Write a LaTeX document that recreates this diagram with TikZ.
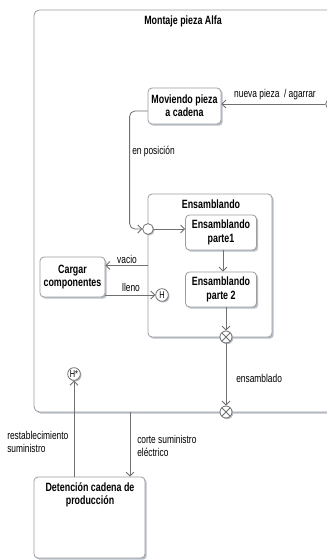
\documentclass[tikz,border=0pt]{standalone}
\usepackage{fontspec}
\setmainfont{Liberation Sans}[FakeStretch=0.74]
\usepackage{xcolor}
\usepackage{tikz}
\usetikzlibrary{arrows.meta,positioning,shadows}
\definecolor{linegray}{HTML}{707070}
\definecolor{boxgray}{HTML}{9C9C9C}
\definecolor{shadowblue}{HTML}{B8BECB}

\begin{document}
\begin{tikzpicture}[x=0.75pt, y=-0.75pt,
  statebox/.style={draw=boxgray, fill=white, rounded corners=3pt, align=center,
    inner sep=1pt, line width=0.6pt, font=\fontsize{9}{10}\selectfont\bfseries,
    drop shadow={shadow xshift=1.3pt, shadow yshift=-1.3pt, fill=shadowblue, opacity=1}},
  title/.style={font=\fontsize{9}{10}\selectfont\bfseries, inner sep=0pt, align=center},
  trans/.style={draw=linegray, line width=0.6pt, -{Straight Barb[length=3pt,width=6pt]}},
  lbl/.style={font=\fontsize{8.5}{9.8}\selectfont, inner sep=0pt, align=left},
  pseudo/.style={circle, draw=linegray, fill=white, inner sep=0pt, line width=0.6pt,
    minimum size=8pt, drop shadow={shadow xshift=0.9pt, shadow yshift=-0.9pt, fill=shadowblue, opacity=1}},
  exitpt/.style={pseudo, minimum size=9pt,
    path picture={\draw[linegray, line width=0.6pt]
      (path picture bounding box.south west) -- (path picture bounding box.north east)
      (path picture bounding box.north west) -- (path picture bounding box.south east);}},
  histpt/.style={pseudo, minimum size=9.5pt, font=\fontsize{7.5}{8}\selectfont}]
  \useasboundingbox (0,0) rectangle (327,560);
  \clip (0,0) rectangle (327,560);

  % Outer state
  \node[statebox, rounded corners=4pt, minimum width=233.25pt, minimum height=301.5pt]
    (montaje) at (189.5,211) {};
  \node[title] (montajetxt) at (183,21) {Montaje pieza Alfa};

  % Composite state
  \node[statebox, minimum width=93pt, minimum height=107.25pt] (ens) at (210,265.5) {};
  \node[title] (enstxt) at (211,204) {Ensamblando};

  % Simple states
  \node[statebox, minimum width=54.75pt, minimum height=27pt] (mover) at (184.5,106)
    {Moviendo pieza\\a cadena};
  \node[statebox, minimum width=53.25pt, minimum height=26.25pt] (p1) at (221,232.5)
    {Ensamblando\\parte1};
  \node[statebox, minimum width=53.25pt, minimum height=26.25pt] (p2) at (221,289.5)
    {Ensamblando\\parte 2};
  \node[statebox, minimum width=48.75pt, minimum height=30pt] (cargar) at (72.5,277)
    {Cargar\\componentes};
  \node[statebox, minimum width=83.25pt, minimum height=60.75pt] (det) at (89.5,517.5) {};
  \node[title] (dettxt) at (90,495) {Detenci\'on cadena de\\producci\'on};

  % Pseudostates
  \node[pseudo] (entR) at (331,104) {};
  \node[pseudo] (ent) at (148,229) {};
  \node[histpt] (hist) at (162,295) {H};
  \node[histpt] (hstar) at (74,374) {H*};
  \node[exitpt] (exitA) at (226,337) {};
  \node[exitpt] (exitB) at (226,412) {};
  \coordinate (corte) at (130,412);

  % Transitions
  \draw[trans] (entR) -- (mover.east |- entR);
  \node[lbl] (lnueva) at (275,95) {nueva pieza\ \ / agarrar};

  \draw[trans, rounded corners=4pt] ([yshift=-3.75pt]mover.west) -- ++(-18,0) |- (ent);
  \node[lbl, anchor=west] (lpos) at (132,152) {en posici\'on};

  \draw[trans] (ent) -- (ent -| p1.west);
  \draw[trans] (p1.south -| 223,0) -- (p2.north -| 223,0);

  \draw[trans] (ens.west) -- (ens.west -| cargar.east);
  \node[lbl] (lvacio) at (127,259) {vacio};

  \draw[trans] (cargar.east |- hist) -- (hist);
  \node[lbl] (llleno) at (131,287) {lleno};

  \draw[trans] (exitA |- p2.south) -- (exitA);
  \draw[trans] (exitA) -- (exitB);
  \node[lbl, anchor=west] (lens) at (236,378) {ensamblado};

  \draw[trans] (corte) -- (corte |- det.north);
  \node[lbl, anchor=north west] (lcorte) at (137,435) {corte suministro\\el\'ectrico};

  \draw[trans] (hstar |- det.north) -- (hstar);
  \node[lbl, anchor=north west] (lrest) at (7,431) {restablecimiento\\suministro};
\end{tikzpicture}
\end{document}
